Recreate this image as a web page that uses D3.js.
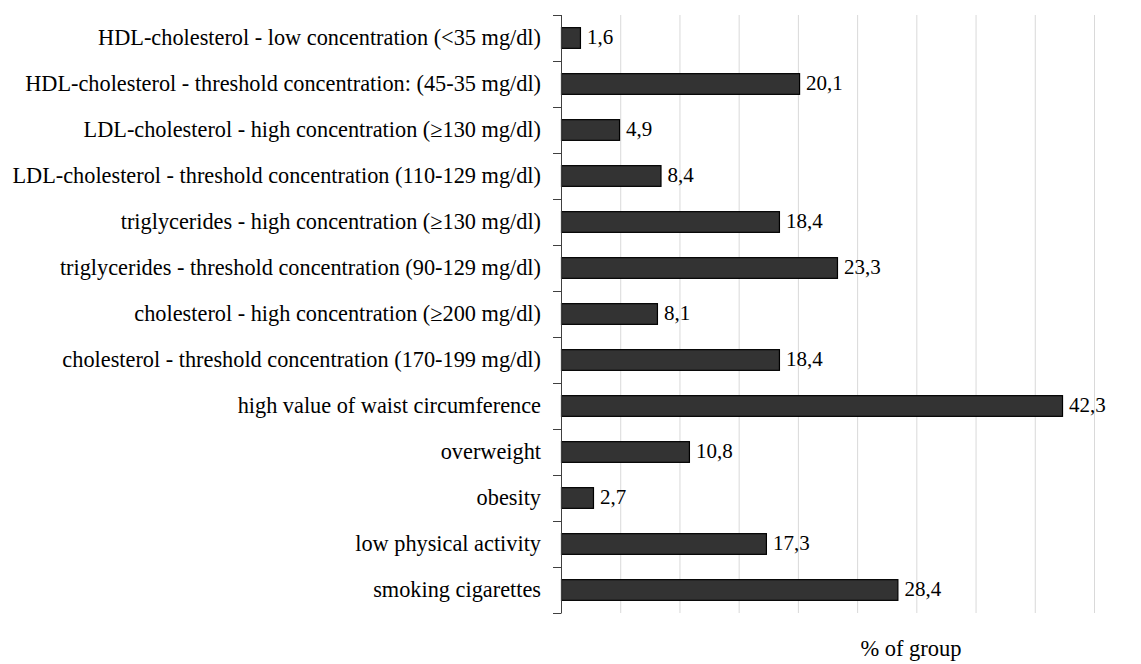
<!DOCTYPE html>
<html><head><meta charset="utf-8">
<script src="https://cdn.jsdelivr.net/npm/d3@7"></script>
<style>body{margin:0;background:#fff}svg{display:block}</style>
</head><body>
<svg id="c" width="1141" height="664"></svg>
<script>
const categories = [
  "HDL-cholesterol - low concentration (<35 mg/dl)",
  "HDL-cholesterol - threshold concentration: (45-35 mg/dl)",
  "LDL-cholesterol - high concentration (\u2265130 mg/dl)",
  "LDL-cholesterol - threshold concentration (110-129 mg/dl)",
  "triglycerides - high concentration (\u2265130 mg/dl)",
  "triglycerides - threshold concentration (90-129 mg/dl)",
  "cholesterol - high concentration (\u2265200 mg/dl)",
  "cholesterol - threshold concentration (170-199 mg/dl)",
  "high value of waist circumference",
  "overweight",
  "obesity",
  "low physical activity",
  "smoking cigarettes"
];
const values = [1.6, 20.1, 4.9, 8.4, 18.4, 23.3, 8.1, 18.4, 42.3, 10.8, 2.7, 17.3, 28.4];
const valueLabels = ["1,6","20,1","4,9","8,4","18,4","23,3","8,1","18,4","42,3","10,8","2,7","17,3","28,4"];
const gridTicks = [5, 10, 15, 20, 25, 30, 35, 40, 45];
const axisTitle = "% of group";

const svg = d3.select("#c");
const font = "'Liberation Serif','Times New Roman',serif";
const x = d3.scaleLinear().domain([0, 45]).range([561, 1094]);
const y = d3.scaleBand().domain(categories).range([15, 613]).paddingInner(0.55).paddingOuter(0.275);
const step = y.step();

// gridlines
svg.append("g").selectAll("line").data(gridTicks).join("line")
  .attr("x1", d => x(d) + 0.5).attr("x2", d => x(d) + 0.5)
  .attr("y1", 15).attr("y2", 613)
  .attr("stroke", "#d9d9d9").attr("stroke-width", 1);

// bars
svg.append("g").selectAll("rect").data(values).join("rect")
  .attr("x", x(0) + 0.5)
  .attr("y", (d, i) => y(categories[i]))
  .attr("width", d => x(d) - x(0))
  .attr("height", y.bandwidth())
  .attr("fill", "#333333").attr("stroke", "#000").attr("stroke-width", 1.2);

// axis line and boundary ticks
const boundaries = d3.range(categories.length + 1).map(i => 15 + i * step);
svg.append("line").attr("x1", x(0) + 0.5).attr("x2", x(0) + 0.5)
  .attr("y1", 15).attr("y2", 613).attr("stroke", "#404040").attr("stroke-width", 1);
svg.append("g").selectAll("line").data(boundaries).join("line")
  .attr("x1", x(0) - 8).attr("x2", x(0) + 0.5)
  .attr("y1", d => Math.round(d) + 0.5).attr("y2", d => Math.round(d) + 0.5)
  .attr("stroke", "#404040").attr("stroke-width", 1);

// category labels
svg.append("g").selectAll("text").data(categories).join("text")
  .attr("x", 541)
  .attr("y", d => y(d) + y.bandwidth() / 2)
  .attr("dy", "0.3em")
  .attr("text-anchor", "end")
  .style("font-family", font).style("font-size", "22.3px").attr("fill", "#000")
  .text(d => d);

// value labels
svg.append("g").selectAll("text").data(values).join("text")
  .attr("x", d => x(d) + 7)
  .attr("y", (d, i) => y(categories[i]) + y.bandwidth() / 2)
  .attr("dy", "0.3em")
  .style("font-family", font).style("font-size", "21px").attr("fill", "#000")
  .text((d, i) => valueLabels[i]);

// axis title
svg.append("text").attr("x", 911).attr("y", 656).attr("text-anchor", "middle")
  .style("font-family", font).style("font-size", "22.5px").attr("fill", "#000")
  .text(axisTitle);
</script>
</body></html>
